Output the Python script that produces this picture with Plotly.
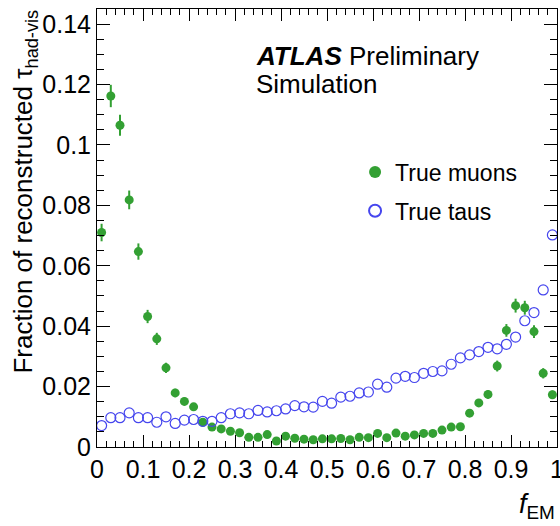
import plotly.graph_objects as go

# bin centres of f_EM (50 bins of width 0.02)
f_em = [round(0.01 + 0.02 * i, 2) for i in range(50)]

muons = [0.0710, 0.1162, 0.1065, 0.0818, 0.0647, 0.0432, 0.0358, 0.0262, 0.0179, 0.0151,
         0.0133, 0.0082, 0.0066, 0.0060, 0.0052, 0.0047, 0.0032, 0.0032, 0.0041, 0.0020,
         0.0036, 0.0029, 0.0026, 0.0024, 0.0027, 0.0027, 0.0028, 0.0024, 0.0032, 0.0031,
         0.0045, 0.0031, 0.0046, 0.0036, 0.0040, 0.0045, 0.0045, 0.0056, 0.0066, 0.0067,
         0.0112, 0.0146, 0.0174, 0.0268, 0.0386, 0.0468, 0.0461, 0.0382, 0.0244, 0.0173]

muon_err = [0.0029, 0.0037, 0.0035, 0.0031, 0.0027, 0.0022, 0.0020, 0.0017, 0.0014, 0.0013,
            0.0012, 0.0010, 0.0009, 0.0008, 0.0008, 0.0007, 0.0006, 0.0006, 0.0007, 0.0005,
            0.0006, 0.0006, 0.0006, 0.0005, 0.0006, 0.0006, 0.0006, 0.0005, 0.0006, 0.0006,
            0.0007, 0.0006, 0.0007, 0.0006, 0.0007, 0.0007, 0.0007, 0.0008, 0.0009, 0.0009,
            0.0011, 0.0013, 0.0014, 0.0018, 0.0021, 0.0023, 0.0023, 0.0021, 0.0017, 0.0014]

taus = [0.0071, 0.0097, 0.0097, 0.0113, 0.0097, 0.0097, 0.0082, 0.0100, 0.0078, 0.0089,
        0.0091, 0.0085, 0.0085, 0.0097, 0.0110, 0.0113, 0.0110, 0.0121, 0.0116, 0.0120,
        0.0126, 0.0137, 0.0133, 0.0132, 0.0151, 0.0145, 0.0165, 0.0168, 0.0179, 0.0182,
        0.0208, 0.0198, 0.0228, 0.0234, 0.0230, 0.0244, 0.0250, 0.0252, 0.0274, 0.0295,
        0.0305, 0.0316, 0.0330, 0.0325, 0.0340, 0.0364, 0.0418, 0.0445, 0.0520, 0.0702]

GREEN = "#33a033"
BLUE = "#4646ee"
FONT = "Liberation Sans, Arial, Helvetica, sans-serif"

fig = go.Figure()
fig.add_trace(go.Scatter(
    x=f_em, y=muons, mode="markers", name="True muons", legendgroup="a",
    marker=dict(symbol="circle", size=9, color=GREEN),
    error_y=dict(type="data", array=muon_err, visible=True, color=GREEN, thickness=2, width=0),
    cliponaxis=False,
))
fig.add_trace(go.Scatter(
    x=f_em, y=taus, mode="markers", name="True taus", legendgroup="b",
    marker=dict(symbol="circle-open", size=10, color=BLUE, line=dict(width=1.2, color=BLUE)),
    cliponaxis=False,
))

axis_common = dict(
    showline=True, linecolor="black", linewidth=1, mirror="allticks",
    ticks="inside", tickcolor="black", tickwidth=1,
    showgrid=False, zeroline=False, ticklabeloverflow="allow", automargin=False,
    tickfont=dict(family=FONT, size=25, color="black"),
)
fig.update_xaxes(range=[0, 1], dtick=0.1, tick0=0, ticklen=12,
                 minor=dict(ticks="inside", dtick=0.02, ticklen=6, tickcolor="black", showgrid=False),
                 **axis_common)
fig.update_yaxes(range=[0, 0.145], dtick=0.02, tick0=0, ticklen=13,
                 minor=dict(ticks="inside", dtick=0.005, ticklen=7, tickcolor="black", showgrid=False),
                 **axis_common)

fig.update_layout(
    width=560, height=526,
    margin=dict(l=97, r=3, t=9, b=79, autoexpand=False),
    plot_bgcolor="white", paper_bgcolor="white",
    font=dict(family=FONT, color="black"),
    showlegend=True,
    legend=dict(x=0.561, y=0.677, xanchor="left", yanchor="top",
                bgcolor="rgba(0,0,0,0)", font=dict(family=FONT, size=23),
                traceorder="grouped", tracegroupgap=6, itemsizing="constant"),
    annotations=[
        dict(text="<b><i>ATLAS</i></b> Preliminary", xref="paper", yref="paper",
             x=0.342, y=0.893, xanchor="left", yanchor="middle", showarrow=False,
             font=dict(family=FONT, size=26)),
        dict(text="Simulation", xref="paper", yref="paper",
             x=0.342, y=0.829, xanchor="left", yanchor="middle", showarrow=False,
             font=dict(family=FONT, size=26)),
        dict(text="Fraction of reconstructed τ<sub>had-vis</sub>", xref="paper", yref="paper",
             x=-0.197, y=1.003, xanchor="left", yanchor="top", textangle=-90, showarrow=False,
             font=dict(family=FONT, size=26)),
        dict(text="<i>f</i><sub>EM</sub>", xref="paper", yref="paper",
             x=1.0, y=-0.178, xanchor="right", yanchor="bottom", showarrow=False,
             font=dict(family=FONT, size=27)),
    ],
)

fig.write_html("out.html")
